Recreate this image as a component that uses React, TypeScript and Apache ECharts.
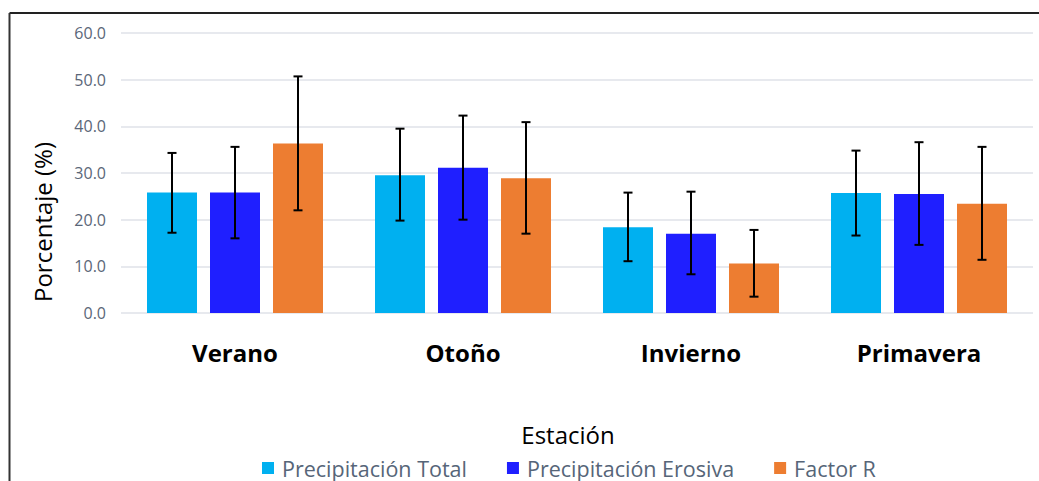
import React, { useEffect, useRef } from "react";
import * as echarts from "echarts";

const categories = ["Verano", "Otoño", "Invierno", "Primavera"];
const seriesNames = ["Precipitación Total", "Precipitación Erosiva", "Factor R"];
const precTotal = [25.8, 29.5, 18.4, 25.7];
const precErosiva = [25.8, 31.1, 17.0, 25.5];
const factorR = [36.3, 28.9, 10.6, 23.4];
const precTotalLow = [17.2, 19.8, 11.1, 16.6];
const precTotalHigh = [34.3, 39.5, 25.8, 34.8];
const precErosivaLow = [16.0, 20.0, 8.3, 14.6];
const precErosivaHigh = [35.6, 42.3, 26.0, 36.6];
const factorRLow = [22.0, 17.0, 3.5, 11.4];
const factorRHigh = [50.7, 40.9, 17.8, 35.6];
const yTicks = [0, 10, 20, 30, 40, 50, 60];

const colors = ["#00B0F0", "#1F1FFF", "#ED7D31"];
const BAR_W = 50;
const BAR_GAP = 0.26;

export default function App() {
  const ref = useRef<HTMLDivElement>(null);
  useEffect(() => {
    const chart = echarts.init(ref.current!, null, { renderer: "svg" });
    const values = [precTotal, precErosiva, factorR];
    const lows = [precTotalLow, precErosivaLow, factorRLow];
    const highs = [precTotalHigh, precErosivaHigh, factorRHigh];
    const barSeries = values.map((v, i) => ({
      name: seriesNames[i],
      type: "bar",
      data: v,
      barWidth: BAR_W,
      barGap: BAR_GAP * 100 + "%",
      itemStyle: { color: colors[i] },
      z: 2,
    }));
    const errSeries = values.map((_, i) => ({
      name: "err" + i,
      type: "custom",
      z: 5,
      data: categories.map((_, k) => [k, lows[i][k], highs[i][k]]),
      encode: { x: 0, y: [1, 2] },
      renderItem: (params: any, api: any) => {
        const x = api.value(0);
        const pLo = api.coord([x, api.value(1)]);
        const pHi = api.coord([x, api.value(2)]);
        const off = (i - 1) * BAR_W * (1 + BAR_GAP);
        const cx = pLo[0] + off;
        const hw = 4.5;
        const style = { stroke: "#000", lineWidth: 2 };
        return {
          type: "group",
          children: [
            { type: "line", shape: { x1: cx, y1: pHi[1], x2: cx, y2: pLo[1] }, style },
            { type: "line", shape: { x1: cx - hw, y1: pHi[1], x2: cx + hw, y2: pHi[1] }, style },
            { type: "line", shape: { x1: cx - hw, y1: pLo[1], x2: cx + hw, y2: pLo[1] }, style },
          ],
        };
      },
    }));
    chart.setOption({
      animation: false,
      backgroundColor: "#fff",
      grid: { left: 121, right: 6, top: 33, bottom: 168 },
      legend: {
        data: seriesNames,
        left: 257,
        top: 452,
        itemWidth: 12,
        itemHeight: 12,
        itemGap: 40,
        icon: "rect",
        textStyle: { fontFamily: "Open Sans", fontSize: 21.5, color: "#566578", padding: [0, 0, 0, 3] },
      },
      xAxis: {
        type: "category",
        data: categories,
        axisLine: { show: false },
        axisTick: { show: false },
        axisLabel: {
          margin: 27,
          fontFamily: "Open Sans",
          fontWeight: "bold",
          fontSize: 24,
          color: "#000",
        },
      },
      yAxis: {
        type: "value",
        min: yTicks[0],
        max: yTicks[yTicks.length - 1],
        interval: 10,
        axisLine: { show: false },
        axisTick: { show: false },
        splitLine: { lineStyle: { color: "#dfe2e8", width: 1.5 } },
        axisLabel: {
          margin: 15,
          fontFamily: "Open Sans",
          fontSize: 16,
          color: "#5a6678",
          formatter: (v: number) => v.toFixed(1),
        },
      },
      graphic: [
        { type: "line", shape: { x1: 9.5, y1: 13, x2: 1039, y2: 13 }, style: { stroke: "#222", lineWidth: 2 } },
        { type: "line", shape: { x1: 9.5, y1: 13, x2: 9.5, y2: 481 }, style: { stroke: "#333", lineWidth: 2 } },
        {
          type: "text",
          x: 42,
          y: 222,
          rotation: Math.PI / 2,
          style: {
            text: "Porcentaje (%)",
            fontFamily: "Open Sans",
            fontSize: 24,
            fill: "#000",
            align: "center",
            verticalAlign: "middle",
          },
        },
        {
          type: "text",
          x: 568,
          y: 434,
          style: {
            text: "Estación",
            fontFamily: "Open Sans",
            fontSize: 24,
            fill: "#000",
            align: "center",
            verticalAlign: "middle",
          },
        },
      ],
      series: [...barSeries, ...errSeries],
    });
    return () => chart.dispose();
  }, []);
  return (
    <div
      ref={ref}
      style={{ position: "absolute", left: 0, top: 0, width: 1039, height: 481 }}
    />
  );
}
